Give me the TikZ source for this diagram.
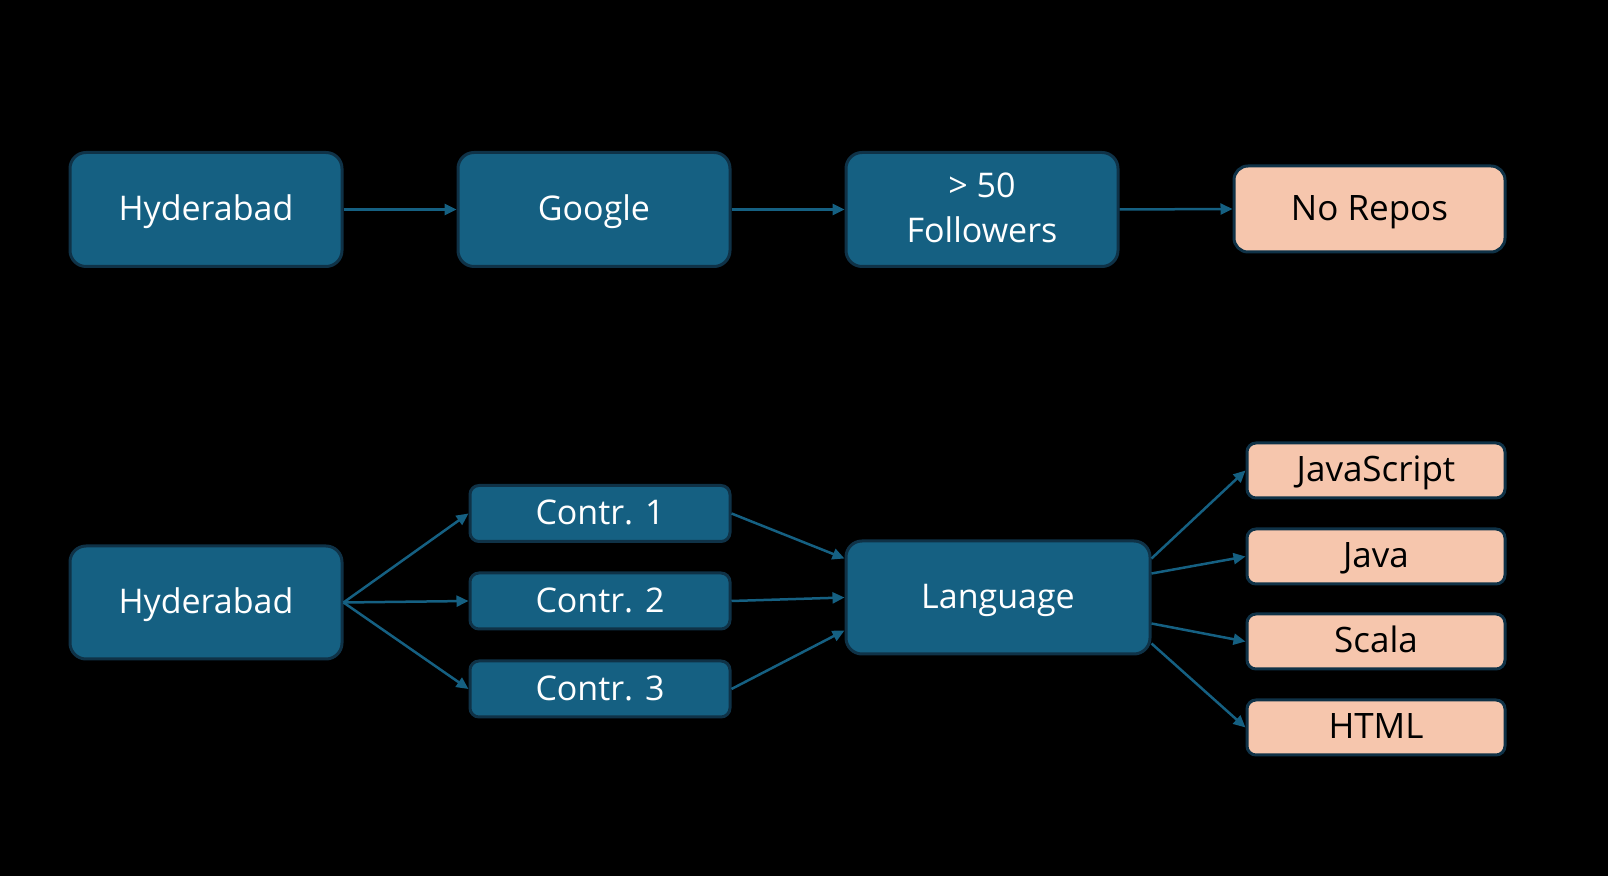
\documentclass[tikz,border=0pt]{standalone}
\usepackage{fontspec}
\setmainfont{Open Sans}
\usetikzlibrary{arrows.meta,calc}
\definecolor{boxblue}{HTML}{156082}
\definecolor{boxedge}{HTML}{0F3247}
\definecolor{peach}{HTML}{F6C6AD}
\begin{document}
\begin{tikzpicture}[x=0.5pt,y=-0.5pt,
  base/.style={draw=boxedge, line width=1.5pt, inner sep=0pt, align=center,
    font=\fontsize{17}{22.5}\selectfont, text height=11.5pt, text depth=0pt},
  bigblue/.style={base, fill=boxblue, text=white, rounded corners=8pt,
    minimum width=136pt, minimum height=57pt},
  smallblue/.style={base, fill=boxblue, text=white, rounded corners=4.5pt,
    minimum width=130pt, minimum height=28pt},
  peachbox/.style={base, fill=peach, text=black, rounded corners=4.5pt,
    minimum width=129pt, minimum height=27.5pt, font=\fontsize{17.5}{22.5}\selectfont},
  conn/.style={draw=boxblue, line width=1.25pt,
    -{Triangle[length=6pt,width=5.5pt]}, shorten >=0pt}
]
\fill[black] (0,0) rectangle (1608,876);
\useasboundingbox (0,0) rectangle (1608,876);

% top row
\node[bigblue] (h1) at (206,209.5) {Hyderabad};
\node[bigblue] (g)  at (594,209.5) {Google};
\node[bigblue, text height=33.5pt, text depth=0pt] (f)  at (982,209.5) {> 50\\Followers};
\node[peachbox, minimum width=135.5pt, minimum height=43pt, rounded corners=7pt] (nr) at (1369.5,209) {No Repos};

\draw[conn] (h1.east) -- (g.west);
\draw[conn] (g.east) -- (f.west);
\draw[conn] (f.east) -- (nr.west);

% bottom row
\node[bigblue, minimum height=56.5pt] (h2) at (206,602.5) {Hyderabad};
\node[smallblue] (c1) at (600,513.5) {Contr. 1};
\node[smallblue] (c2) at (600,601) {Contr. 2};
\node[smallblue] (c3) at (600,689) {Contr. 3};
\node[bigblue, minimum width=152pt, minimum height=56.5pt] (lang) at (998,597.5) {Language};
\node[peachbox] (js)    at (1376,470.5) {JavaScript};
\node[peachbox] (java)  at (1376,556.5) {Java};
\node[peachbox] (scala) at (1376,641.5) {Scala};
\node[peachbox] (html)  at (1376,727.5) {HTML};

\draw[conn] (h2.east) -- (c1.west);
\draw[conn] (h2.east) -- (c2.west);
\draw[conn] (h2.east) -- (c3.west);

\draw[conn] (c1.east) -- ($(lang.west)+(0,-39)$);
\draw[conn] (c2.east) -- (lang.west);
\draw[conn] (c3.east) -- ($(lang.west)+(0,33)$);

\draw[conn] ($(lang.east)+(0,-39)$) -- (js.west);
\draw[conn] ($(lang.east)+(0,-24)$) -- (java.west);
\draw[conn] ($(lang.east)+(0,26)$) -- (scala.west);
\draw[conn] ($(lang.east)+(0,46)$) -- (html.west);
\end{tikzpicture}
\end{document}
